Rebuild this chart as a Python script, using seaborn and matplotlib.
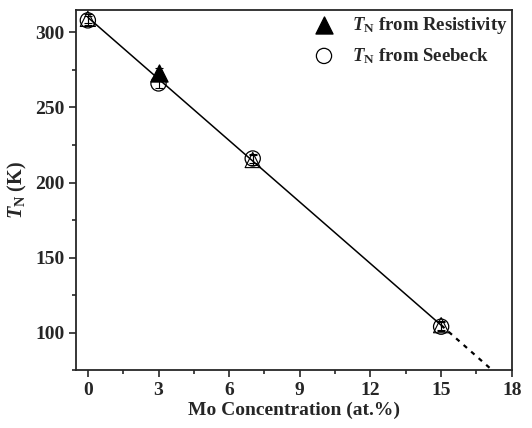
import numpy as np
import pandas as pd
import seaborn as sns
import matplotlib.pyplot as plt
from matplotlib.ticker import MultipleLocator

sns.set_style('ticks')
plt.rcParams['font.family'] = ['Liberation Serif', 'DejaVu Serif']
plt.rcParams['font.weight'] = 'bold'
plt.rcParams['mathtext.fontset'] = 'custom'
plt.rcParams['mathtext.rm'] = 'Liberation Serif:bold'
plt.rcParams['mathtext.it'] = 'Liberation Serif:italic:bold'
plt.rcParams['mathtext.bf'] = 'Liberation Serif:bold'

# data
mo_conc = [0, 3, 7, 15]
tn_resistivity = [309, 273, 215, 105]
tn_seebeck = [308, 266, 216, 104]
err = [3, 3, 3, 3]

fit_x = [0, 15]
fit_y = [310, 105]
extra_x = [15, 17.1]
extra_y = [105, 76]

df = pd.DataFrame({'x': mo_conc, 'res': tn_resistivity, 'see': tn_seebeck})

fig, ax = plt.subplots(figsize=(5.32, 4.28), dpi=100)

sns.lineplot(x=fit_x, y=fit_y, color='black', lw=1.1, ax=ax)
sns.lineplot(x=extra_x, y=extra_y, color='black', lw=1.6, ls=(0, (2, 2.5)), ax=ax)

ax.errorbar(df['x'], df['res'], yerr=err, fmt='none', ecolor='black', elinewidth=0.8, capsize=3, capthick=0.8)
ax.errorbar(df['x'], df['see'], yerr=err, fmt='none', ecolor='black', elinewidth=0.8, capsize=3, capthick=0.8)

# triangles hidden under the circles are only outlines in the original
sns.scatterplot(data=df.drop(index=1), x='x', y='res', marker='^', s=120, facecolor='none',
                edgecolor='black', linewidth=0.8, ax=ax, zorder=3)
sns.scatterplot(data=df.iloc[[1]], x='x', y='res', marker='^', s=150, color='black', edgecolor='black',
                label=r'$T_\mathrm{N}$ from Resistivity', ax=ax, zorder=3)
sns.scatterplot(data=df, x='x', y='see', marker='o', s=120, facecolor='none', edgecolor='black',
                linewidth=0.9, label=r'$T_\mathrm{N}$ from Seebeck', ax=ax, zorder=4)

ax.set_xlim(-0.5, 18)
ax.set_ylim(75, 315)
ax.xaxis.set_major_locator(MultipleLocator(3))
ax.xaxis.set_minor_locator(MultipleLocator(1.5))
ax.yaxis.set_major_locator(MultipleLocator(50))
ax.yaxis.set_minor_locator(MultipleLocator(25))
ax.tick_params(which='major', direction='out', length=5, width=1.2, labelsize=14)
ax.tick_params(which='minor', direction='out', length=3, width=1.2)
for sp in ax.spines.values():
    sp.set_linewidth(1.3)
    sp.set_visible(True)

ax.set_xlabel('Mo Concentration (at.%)', fontsize=14, fontweight='bold', labelpad=2)
ax.set_ylabel(r'$T_\mathrm{N}$ (K)', fontsize=14.5, fontweight='bold', labelpad=4)

leg = ax.legend(loc='upper right', bbox_to_anchor=(1.012, 1.013), frameon=False, fontsize=13.5,
                handletextpad=0.5, borderaxespad=0.1, labelspacing=0.55)

plt.subplots_adjust(left=0.143, right=0.962, top=0.977, bottom=0.135)
plt.savefig('out.png', dpi=100)
